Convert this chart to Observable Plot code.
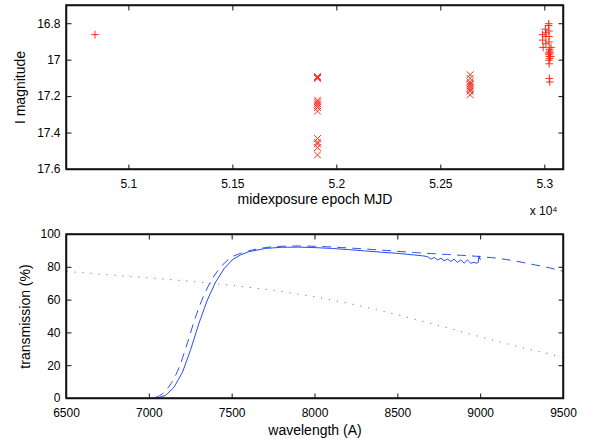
<!DOCTYPE html>
<html>
<head>
<meta charset="utf-8">
<script src="https://cdn.jsdelivr.net/npm/d3@7"></script>
<script src="https://cdn.jsdelivr.net/npm/@observablehq/plot@0.6"></script>
<style>
  html, body { margin: 0; padding: 0; background: #fff; }
  #chart { width: 589px; }
  #chart svg { display: block; font-family: 'Liberation Sans', Arial, Helvetica, sans-serif; color: #000; }
</style>
</head>
<body>
<div id="chart"></div>
<script>
// ---------- Top panel data: I magnitude vs midexposure epoch (MJD) ----------
const plusMJD = [50837, 52989, 52990, 52992, 53003, 53005, 53005, 53006, 53018, 53020, 53020, 53020, 53022, 53018, 53020, 53022, 53024, 53020, 53026, 53028, 53021, 53023, 53022, 53030, 53024, 53019];
const plusMag = [16.86, 16.86, 16.89, 16.93, 16.83, 16.87, 16.91, 16.85, 16.81, 16.84, 16.87, 16.90, 16.94, 16.96, 16.97, 16.98, 16.99, 17.00, 16.96, 16.98, 17.02, 16.95, 17.10, 16.93, 17.12, 16.80];
const crossMJD = [51907, 51907, 51907, 51907, 51907, 51907, 51907, 51907, 51907, 51907, 51907, 51907, 51907, 51907,
                  52641, 52641, 52641, 52641, 52641, 52641, 52641, 52641, 52641];
const crossMag = [17.09, 17.10, 17.095, 17.22, 17.23, 17.24, 17.25, 17.26, 17.28, 17.43, 17.45, 17.46, 17.48, 17.52,
                  17.08, 17.10, 17.12, 17.13, 17.14, 17.15, 17.16, 17.17, 17.19];
const topXDomain = [50700, 53090];
const topYDomain = [16.7, 17.6];
const topXTicks = [51000, 51500, 52000, 52500, 53000];
const topYTicks = [16.8, 17, 17.2, 17.4, 17.6];

// ---------- Bottom panel data: transmission (%) vs wavelength (A) ----------
const solidWl = [6500, 7000, 7050, 7100, 7150, 7200, 7250, 7300, 7350, 7400, 7450, 7500, 7550, 7600, 7700, 7800, 7900, 8000, 8100, 8200, 8300, 8400, 8500, 8600, 8650, 8680, 8700, 8720, 8740, 8760, 8780, 8800, 8820, 8840, 8860, 8880, 8900, 8920, 8940, 8960, 8975, 8985, 8990, 8995, 9000];
const solidT  = [0, 0, 0.3, 2, 7, 16, 30, 46, 60, 71, 79, 84.5, 87.5, 89.5, 91.5, 92.2, 92.3, 92, 91.5, 90.8, 90, 89.2, 88.5, 87.5, 87, 86.5, 85, 86, 84.5, 85.5, 84, 85, 83.5, 85, 83, 84.5, 82.5, 84.5, 82.5, 83, 82.5, 83, 87, 85, 85];
const dashWl = [6500, 7000, 7030, 7080, 7130, 7180, 7230, 7280, 7330, 7380, 7430, 7480, 7550, 7600, 7700, 7800, 7900, 8000, 8200, 8400, 8600, 8800, 9000, 9100, 9200, 9300, 9400, 9500];
const dashT  = [0, 0, 0.5, 3, 9, 19, 34, 50, 63, 73, 80, 85, 88.5, 90, 92, 92.8, 93, 92.8, 91.8, 90.5, 89, 87.8, 86.5, 85.5, 84, 82, 80, 77.5];
const dotWl = [6500, 6750, 7000, 7250, 7500, 7750, 8000, 8250, 8500, 8750, 9000, 9250, 9500];
const dotT  = [77.5, 75.5, 73.5, 71.5, 69, 66, 62, 57, 51, 44.5, 37.5, 31, 25];
const botXDomain = [6500, 9500];
const botYDomain = [0, 100];
const botXTicks = [6500, 7000, 7500, 8000, 8500, 9000, 9500];
const botYTicks = [0, 20, 40, 60, 80, 100];

const RED = "#ff2a1a";
const BLUE = "#2a4cf0";
const INK = "#111111";
const PLOT_W = 497, PLOT_H = 164, TICK_PX = 5;

const plusData = plusMJD.map((x, i) => ({x, y: plusMag[i]}));
const crossData = crossMJD.map((x, i) => ({x, y: crossMag[i]}));
const solid = solidWl.map((x, i) => ({x, y: solidT[i]}));
const dashed = dashWl.map((x, i) => ({x, y: dashT[i]}));
const dotted = dotWl.map((x, i) => ({x, y: dotT[i]}));

// Box with inward tick marks on all four sides (MATLAB style)
function boxAxes(xDom, yDom, xTicks, yTicks, xFmt, yFmt) {
  const dx = (xDom[1] - xDom[0]) * TICK_PX / PLOT_W;
  const dy = (yDom[1] - yDom[0]) * TICK_PX / PLOT_H;
  const links = [
    ...xTicks.map(t => ({x1: t, x2: t, y1: yDom[0], y2: yDom[0] + dy})),
    ...xTicks.map(t => ({x1: t, x2: t, y1: yDom[1], y2: yDom[1] - dy})),
    ...yTicks.map(t => ({x1: xDom[0], x2: xDom[0] + dx, y1: t, y2: t})),
    ...yTicks.map(t => ({x1: xDom[1], x2: xDom[1] - dx, y1: t, y2: t}))
  ];
  const box = [{x1: xDom[0], x2: xDom[1], y1: yDom[0], y2: yDom[1]}];
  return [
    Plot.axisX(xTicks, {anchor: "bottom", tickSize: 0, tickPadding: 10, tickFormat: xFmt, fontSize: 12, label: null}),
    Plot.axisY(yTicks, {anchor: "left", tickSize: 0, tickPadding: 6, tickFormat: yFmt, fontSize: 12, label: null}),
    Plot.link(links, {x1: "x1", x2: "x2", y1: "y1", y2: "y2", stroke: INK, strokeWidth: 1}),
    Plot.rect(box, {x1: "x1", x2: "x2", y1: "y1", y2: "y2", fill: "none", stroke: INK, strokeWidth: 1.5}),
    Plot.frame({stroke: INK, strokeWidth: 1.5})
  ];
}

const topChart = Plot.plot({
  width: 589, height: 220,
  marginLeft: 66, marginRight: 26, marginTop: 5, marginBottom: 51,
  x: {domain: topXDomain},
  y: {domain: topYDomain, reverse: true},
  marks: [
    Plot.dot(plusData, {x: "x", y: "y", symbol: "plus", r: 2.6, stroke: RED, strokeWidth: 1}),
    Plot.dot(crossData, {x: "x", y: "y", symbol: "times", r: 3.2, stroke: RED, strokeWidth: 1}),
    ...boxAxes(topXDomain, topYDomain, topXTicks, topYTicks, d => String(d / 1e4), d => String(d)),
    Plot.text(["midexposure epoch MJD"], {frameAnchor: "bottom", dy: 34, fontSize: 14, lineAnchor: "bottom", textAnchor: "middle"}),
    Plot.text(["I magnitude"], {frameAnchor: "left", dx: -46, rotate: -90, fontSize: 14, textAnchor: "middle", lineAnchor: "middle"}),
    Plot.text(["x 10⁴"], {frameAnchor: "bottom-right", dy: 45, dx: -6, textAnchor: "end", fontSize: 12, lineAnchor: "bottom"})
  ]
});

const bottomChart = Plot.plot({
  width: 589, height: 219,
  marginLeft: 66, marginRight: 26, marginTop: 14, marginBottom: 41,
  x: {domain: botXDomain},
  y: {domain: botYDomain},
  marks: [
    Plot.line(dotted, {x: "x", y: "y", stroke: "#5577ff", strokeWidth: 1, strokeDasharray: "1.2,6.8", strokeLinecap: "butt"}),
    Plot.line(dashed, {x: "x", y: "y", stroke: BLUE, strokeWidth: 1, strokeDasharray: "8,7", curve: "monotone-x"}),
    Plot.line(solid, {x: "x", y: "y", stroke: BLUE, strokeWidth: 1, curve: "linear"}),
    ...boxAxes(botXDomain, botYDomain, botXTicks, botYTicks, d => String(d), d => String(d)),
    Plot.text(["wavelength (A)"], {frameAnchor: "bottom", dy: 36, fontSize: 14, lineAnchor: "bottom", textAnchor: "middle"}),
    Plot.text(["transmission (%)"], {frameAnchor: "left", dx: -41, rotate: -90, fontSize: 14, textAnchor: "middle", lineAnchor: "middle"})
  ]
});

document.getElementById("chart").append(topChart, bottomChart);
</script>
</body>
</html>
